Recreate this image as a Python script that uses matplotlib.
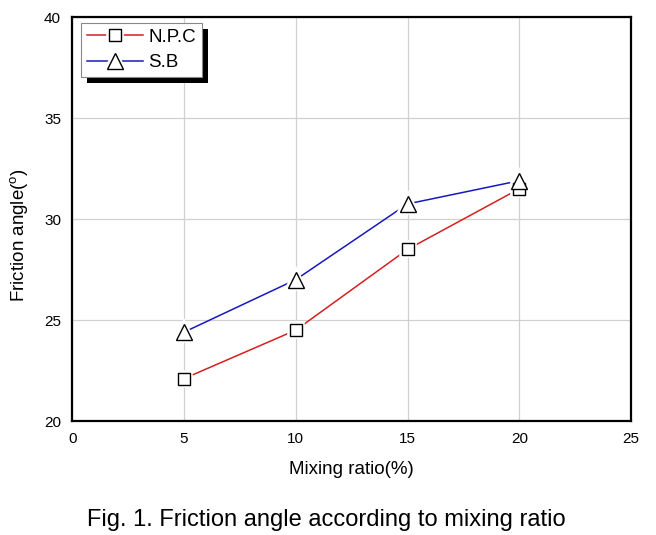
import numpy as np
import matplotlib
matplotlib.use('Agg')
import matplotlib.pyplot as plt
from matplotlib import patheffects
from matplotlib.legend_handler import HandlerTuple

plt.rcParams['font.family'] = ['Liberation Sans', 'DejaVu Sans']

# Data
mixing_ratio = [5, 10, 15, 20]
npc_angle = [22.1, 24.5, 28.5, 31.5]
sb_angle = [24.4, 27.0, 30.75, 31.9]

fig = plt.figure(figsize=(6.56, 5.35), dpi=100)
ax = fig.add_axes([0.110, 0.213, 0.852, 0.755])

def series(y, color, marker, size):
    line, = ax.plot(mixing_ratio, y, color=color, lw=1.1, zorder=3)
    halo, = ax.plot(mixing_ratio, y, ls='none', marker=marker, ms=size,
                    mfc='white', mec='white', mew=4, zorder=4)
    mk, = ax.plot(mixing_ratio, y, ls='none', marker=marker, ms=size,
                  mfc='white', mec='black', mew=1.0, zorder=5)
    return (line, halo, mk)

h_npc = series(npc_angle, '#d42020', 's', 8.5)
h_sb = series(sb_angle, '#1818c0', '^', 11)

ax.set_xlim(0, 25)
ax.set_ylim(20, 40)
ax.set_xticks([0, 5, 10, 15, 20, 25])
ax.set_yticks([20, 25, 30, 35, 40])
ax.grid(True, color='#d0d0d0', lw=0.9)
ax.set_axisbelow(True)
ax.tick_params(length=0, labelsize=11, pad=8)
for s in ax.spines.values():
    s.set_linewidth(1.6)
    s.set_color('black')

ax.set_xlabel('Mixing ratio(%)', fontsize=13.5, labelpad=11)
ax.set_ylabel('Friction angle($^{\\mathregular{o}}$)', fontsize=13.5)
ax.yaxis.set_label_coords(-0.073, 0.46)

leg = ax.legend([h_npc, h_sb], ['N.P.C', 'S.B'],
                handler_map={tuple: HandlerTuple(ndivide=1, pad=0)},
                loc='upper left', bbox_to_anchor=(0.016, 0.985),
                fontsize=13.5, handlelength=3.0, handletextpad=0.3,
                borderpad=0.3, labelspacing=0.45, borderaxespad=0,
                fancybox=False, framealpha=1, edgecolor='#888888')
leg.get_frame().set_linewidth(0.8)
leg.get_frame().set_path_effects([
    patheffects.SimplePatchShadow(offset=(4.5, -4.5), shadow_rgbFace='black', alpha=1),
    patheffects.Normal()])

fig.text(0.497, 0.028, 'Fig. 1. Friction angle according to mixing ratio',
         ha='center', va='center', fontsize=17)

fig.savefig('out.png', dpi=100)
